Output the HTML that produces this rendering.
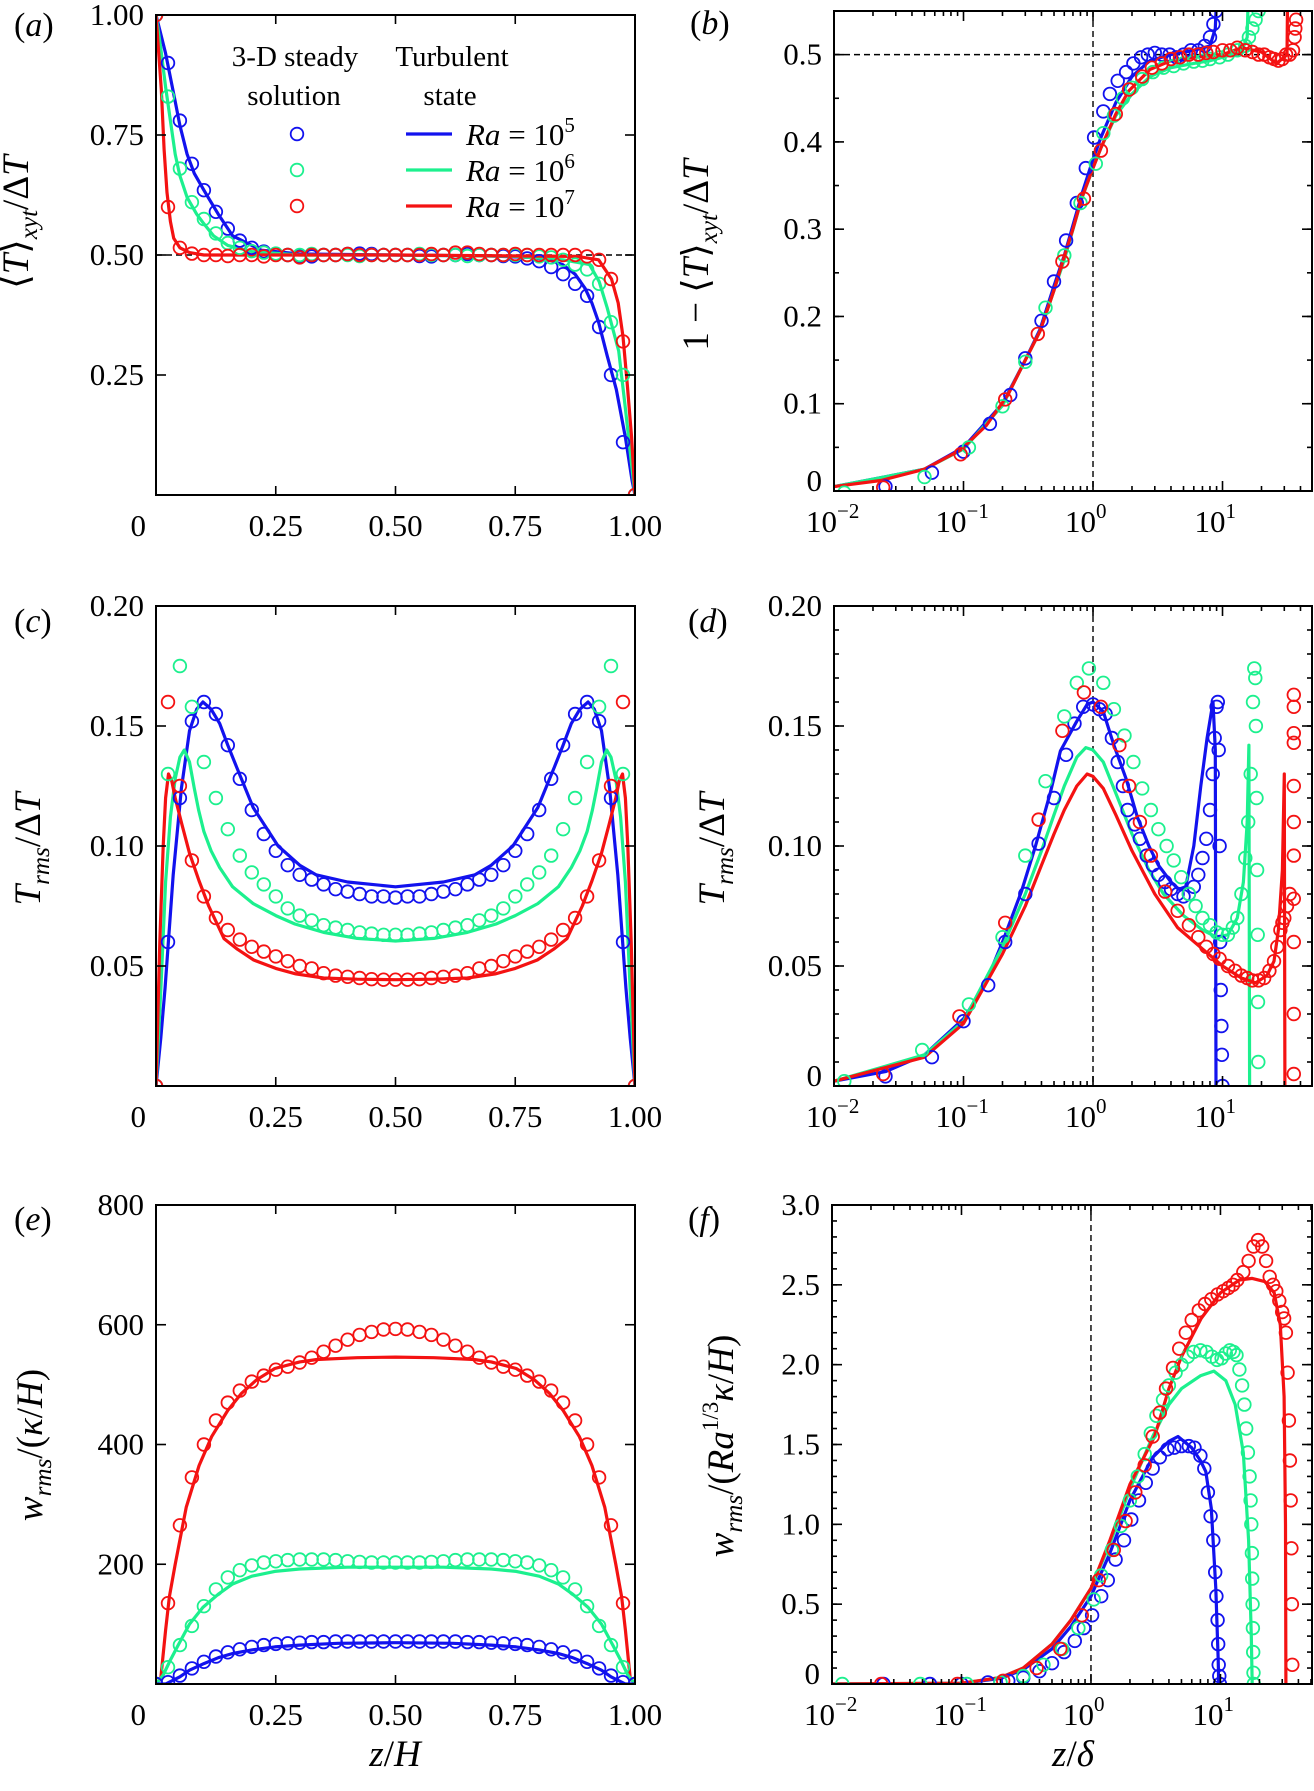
<!DOCTYPE html>
<html><head><meta charset="utf-8"><title>Temperature and velocity profiles</title>
<style>
html,body{margin:0;padding:0;background:#fff;}
svg{display:block;font-family:"Liberation Serif","DejaVu Serif",serif;}
</style></head>
<body>
<svg id="fig" xmlns="http://www.w3.org/2000/svg" width="1314" height="1791" viewBox="0 0 1314 1791">
<rect x="0" y="0" width="1314" height="1791" fill="#fff"/>
<defs id="defs"></defs>
</svg>
<script>
// ---------- shared tick data ----------
const linXTicks = [0, 0.25, 0.5, 0.75, 1];
const linXLabels = ['0', '0.25', '0.50', '0.75', '1.00'];
const logXTicks = [0.01, 0.1, 1, 10];
const logXExp = ['\u22122', '\u22121', '0', '1'];
const aYTicks = [0.25, 0.5, 0.75, 1.0];
const aYLabels = ['0.25', '0.50', '0.75', '1.00'];
const bYTicks = [0, 0.1, 0.2, 0.3, 0.4, 0.5];
const bYLabels = ['0', '0.1', '0.2', '0.3', '0.4', '0.5'];
const cYTicks = [0.05, 0.1, 0.15, 0.2];
const cYLabels = ['0.05', '0.10', '0.15', '0.20'];
const dYTicks = [0, 0.05, 0.1, 0.15, 0.2];
const dYLabels = ['0', '0.05', '0.10', '0.15', '0.20'];
const eYTicks = [200, 400, 600, 800];
const eYLabels = ['200', '400', '600', '800'];
const fYTicks = [0, 0.5, 1, 1.5, 2, 2.5, 3];
const fYLabels = ['0', '0.5', '1.0', '1.5', '2.0', '2.5', '3.0'];

// ---------- panel (a) ----------
const zGrid = [0,0.025,0.05,0.075,0.1,0.125,0.15,0.175,0.2,0.225,0.25,0.275,0.3,0.325,0.35,0.375,0.4,0.425,0.45,0.475,0.5,0.525,0.55,0.575,0.6,0.625,0.65,0.675,0.7,0.725,0.75,0.775,0.8,0.825,0.85,0.875,0.9,0.925,0.95,0.975,1];
const aBlueC = [1.00,0.90,0.78,0.69,0.635,0.59,0.555,0.53,0.515,0.507,0.502,0.5,0.498,0.497,0.5,0.5,0.502,0.503,0.502,0.5,0.5,0.5,0.498,0.497,0.5,0.5,0.502,0.5,0.5,0.498,0.497,0.493,0.487,0.475,0.46,0.44,0.415,0.35,0.25,0.11,0.0];
const aGreenC = [1.0,0.83,0.68,0.61,0.575,0.545,0.525,0.515,0.508,0.505,0.503,0.5,0.5,0.502,0.5,0.5,0.5,0.498,0.5,0.5,0.5,0.5,0.502,0.5,0.5,0.5,0.498,0.5,0.5,0.5,0.5,0.5,0.497,0.495,0.49,0.48,0.47,0.44,0.36,0.25,0.0];
const aRedC = [1.0,0.6,0.515,0.503,0.5,0.5,0.498,0.5,0.5,0.497,0.5,0.5,0.495,0.5,0.5,0.5,0.502,0.5,0.5,0.5,0.5,0.5,0.5,0.502,0.5,0.505,0.505,0.502,0.5,0.5,0.502,0.5,0.5,0.5,0.5,0.5,0.497,0.49,0.45,0.32,0.0];
const aBlueLz = [0,0.01,0.02,0.03,0.04,0.05,0.065,0.08,0.1,0.112,0.13,0.16,0.19,0.22,0.3,0.5,0.7,0.78,0.82,0.849,0.875,0.896,0.91,0.924,0.942,0.961,0.98,0.994,1];
const aBlueLv = [1.0,0.96,0.92,0.87,0.82,0.77,0.71,0.67,0.635,0.615,0.585,0.54,0.525,0.51,0.502,0.5,0.498,0.495,0.49,0.48,0.46,0.43,0.40,0.36,0.29,0.22,0.12,0.03,0.0];
const aGreenLz = [0,0.01,0.02,0.03,0.04,0.05,0.065,0.085,0.1,0.12,0.15,0.2,0.3,0.5,0.75,0.85,0.905,0.925,0.942,0.966,0.98,0.991,1];
const aGreenLv = [1.0,0.93,0.85,0.78,0.71,0.665,0.62,0.585,0.565,0.54,0.52,0.507,0.5,0.5,0.497,0.49,0.48,0.445,0.39,0.30,0.18,0.08,0.0];
const aRedLz = [0,0.005,0.011,0.017,0.023,0.03,0.037,0.05,0.07,0.1,0.5,0.88,0.924,0.951,0.965,0.975,0.984,0.993,1];
const aRedLv = [1.0,0.93,0.845,0.72,0.63,0.57,0.535,0.515,0.505,0.5,0.5,0.497,0.49,0.45,0.40,0.33,0.23,0.12,0.0];

// ---------- panel (b) ----------
const bBlueLx = [0.01,0.05,0.1,0.2,0.3,0.39,0.5,0.6,0.82,1,1.15,1.5,2,2.75,4,6,8,8.8,9.2];
const bBlueLy = [0.005,0.025,0.05,0.1,0.15,0.185,0.235,0.27,0.34,0.38,0.405,0.445,0.475,0.493,0.5,0.505,0.51,0.53,0.6];
const bGreenLx = [0.01,0.05,0.1,0.2,0.3,0.39,0.5,0.6,0.82,1,1.15,1.5,2,2.75,4,6,8,10,14,15.5,16];
const bGreenLy = [0.005,0.025,0.048,0.098,0.15,0.183,0.23,0.265,0.335,0.37,0.393,0.43,0.455,0.475,0.485,0.49,0.493,0.497,0.503,0.52,0.6];
const bRedLx = [0.01,0.023,0.05,0.095,0.15,0.22,0.3,0.39,0.5,0.586,0.7,0.82,1,1.15,1.5,1.88,2.75,4,6,10,14,20,26,30,31.5,32];
const bRedLy = [0.005,0.012,0.025,0.047,0.075,0.11,0.15,0.183,0.23,0.264,0.3,0.336,0.37,0.393,0.432,0.458,0.483,0.493,0.497,0.5,0.508,0.503,0.49,0.497,0.5,0.6];
const bBlueCx = [0.025,0.057,0.1,0.16,0.23,0.3,0.4,0.5,0.62,0.75,0.88,1.02,1.2,1.35,1.55,1.8,2.05,2.35,2.65,3.0,3.4,3.9,4.4,5,5.7,6.5,7.3,8.0,8.5,8.9];
const bBlueCy = [0.005,0.021,0.045,0.077,0.11,0.152,0.195,0.24,0.287,0.33,0.37,0.405,0.435,0.455,0.47,0.48,0.49,0.497,0.5,0.502,0.5,0.5,0.497,0.5,0.505,0.505,0.51,0.52,0.535,0.55];
const bGreenCx = [0.012,0.05,0.11,0.2,0.3,0.43,0.6,0.8,1.05,1.2,1.45,1.7,2,2.4,2.9,3.5,4.2,5,6,7,8,9.5,11,13,15,16,17,18,19];
const bGreenCy = [-0.002,0.016,0.05,0.097,0.148,0.21,0.27,0.33,0.375,0.41,0.43,0.45,0.462,0.472,0.48,0.485,0.487,0.49,0.492,0.493,0.495,0.497,0.5,0.505,0.51,0.52,0.53,0.54,0.55];
const bRedCx = [0.024,0.095,0.21,0.375,0.58,0.85,1.15,1.5,1.9,2.4,2.85,3.4,4,4.7,5.5,6.5,7.5,8.5,10,11.5,13,15,17,19,21,23,25,27,29,31,33,35,36,36.5,37];
const bRedCy = [0.004,0.042,0.105,0.18,0.263,0.335,0.39,0.432,0.46,0.475,0.485,0.49,0.495,0.497,0.5,0.5,0.502,0.503,0.505,0.505,0.508,0.505,0.503,0.5,0.5,0.497,0.495,0.493,0.495,0.5,0.5,0.505,0.52,0.53,0.54];

// ---------- panel (c) ----------
const cBlueC = [0,0.06,0.12,0.152,0.16,0.155,0.142,0.128,0.115,0.105,0.098,0.092,0.088,0.086,0.084,0.082,0.081,0.08,0.079,0.079,0.0785,0.079,0.079,0.08,0.081,0.082,0.084,0.086,0.088,0.092,0.098,0.105,0.115,0.128,0.142,0.155,0.16,0.152,0.12,0.06,0];
const cGreenC = [0,0.13,0.175,0.158,0.135,0.12,0.107,0.096,0.089,0.084,0.079,0.074,0.071,0.069,0.067,0.066,0.065,0.064,0.0635,0.063,0.063,0.063,0.0635,0.064,0.065,0.066,0.067,0.069,0.071,0.074,0.079,0.084,0.089,0.096,0.107,0.12,0.135,0.158,0.175,0.13,0];
const cRedC = [0,0.16,0.125,0.094,0.079,0.07,0.065,0.061,0.058,0.056,0.054,0.052,0.05,0.049,0.047,0.046,0.0455,0.045,0.0445,0.0443,0.0443,0.0443,0.0445,0.045,0.0455,0.046,0.047,0.049,0.05,0.052,0.054,0.056,0.058,0.061,0.065,0.07,0.079,0.094,0.125,0.16,0];
const cBlueLz = [0,0.01,0.019,0.036,0.053,0.07,0.085,0.098,0.115,0.133,0.15,0.168,0.203,0.255,0.3,0.334,0.4,0.5,0.6,0.666,0.7,0.745,0.797,0.832,0.85,0.867,0.885,0.902,0.915,0.93,0.947,0.964,0.981,0.99,1];
const cBlueLv = [0,0.02,0.041,0.088,0.124,0.148,0.157,0.16,0.157,0.151,0.142,0.133,0.116,0.100,0.092,0.088,0.085,0.083,0.085,0.088,0.092,0.100,0.116,0.133,0.142,0.151,0.157,0.16,0.157,0.148,0.124,0.088,0.041,0.02,0];
const cGreenLz = [0,0.01,0.02,0.03,0.04,0.05,0.059,0.07,0.08,0.089,0.1,0.115,0.133,0.16,0.203,0.25,0.29,0.35,0.42,0.5,0.58,0.65,0.71,0.75,0.797,0.84,0.867,0.885,0.9,0.911,0.92,0.93,0.941,0.95,0.96,0.97,0.98,0.99,1];
const cGreenLv = [0,0.04,0.085,0.112,0.128,0.137,0.14,0.135,0.124,0.115,0.106,0.098,0.091,0.083,0.076,0.071,0.0675,0.064,0.0615,0.0604,0.0615,0.064,0.0675,0.071,0.076,0.083,0.091,0.098,0.106,0.115,0.124,0.135,0.14,0.137,0.128,0.112,0.085,0.04,0];
const cRedLz = [0,0.008,0.015,0.02,0.026,0.033,0.04,0.054,0.07,0.09,0.11,0.142,0.17,0.204,0.25,0.292,0.35,0.42,0.5,0.58,0.65,0.708,0.75,0.796,0.83,0.858,0.89,0.91,0.93,0.946,0.96,0.967,0.974,0.98,0.985,0.992,1];
const cRedLv = [0,0.06,0.1,0.12,0.13,0.127,0.12,0.109,0.097,0.0854,0.075,0.0614,0.057,0.0525,0.049,0.0467,0.045,0.0445,0.0443,0.0445,0.045,0.0467,0.049,0.0525,0.057,0.0614,0.075,0.0854,0.097,0.109,0.12,0.127,0.13,0.12,0.1,0.06,0];

// ---------- panel (d) ----------
const dBlueLx = [0.01,0.025,0.05,0.1,0.146,0.2,0.28,0.36,0.47,0.56,0.75,0.9,1.0,1.2,1.45,1.8,2.2,2.7,3.2,4,4.6,5.2,6,6.8,7.6,8.45,8.8,8.9];
const dBlueLy = [0.002,0.006,0.013,0.028,0.042,0.06,0.081,0.1,0.1225,0.1396,0.152,0.159,0.16,0.156,0.142,0.128,0.112,0.1,0.092,0.085,0.082,0.083,0.1,0.125,0.145,0.16,0.14,0.0];
const dGreenLx = [0.01,0.05,0.1,0.2,0.3,0.4,0.5,0.6,0.75,0.88,1.0,1.2,1.5,2,2.7,3.5,5,7,9,11,13,14.5,15.5,16,16.2];
const dGreenLy = [0.002,0.013,0.027,0.058,0.08,0.098,0.113,0.125,0.137,0.141,0.14,0.135,0.122,0.105,0.09,0.08,0.071,0.065,0.062,0.063,0.07,0.085,0.11,0.142,0.0];
const dRedLx = [0.01,0.05,0.1,0.2,0.3,0.4,0.5,0.6,0.75,0.9,1.0,1.2,1.5,2,3,4.5,6.7,10,14,18,22,25,27,29,30,30.3];
const dRedLy = [0.002,0.012,0.026,0.055,0.075,0.092,0.105,0.115,0.125,0.13,0.129,0.124,0.113,0.098,0.08,0.066,0.058,0.05,0.045,0.043,0.046,0.052,0.065,0.09,0.13,0.0];
const dBlueCx = [0.025,0.057,0.1,0.155,0.21,0.3,0.38,0.5,0.62,0.72,0.84,1.0,1.12,1.25,1.4,1.55,1.7,1.85,2.1,2.3,2.6,2.9,3.2,3.6,4,4.5,5,5.5,6,6.5,7,7.5,8,8.4,8.7,9,9.2,9.35,9.5,9.6,9.7,9.8,9.9,10];
const dBlueCy = [0.004,0.012,0.027,0.042,0.06,0.08,0.101,0.12,0.138,0.151,0.158,0.159,0.157,0.155,0.145,0.135,0.125,0.115,0.109,0.103,0.096,0.092,0.088,0.085,0.082,0.08,0.079,0.08,0.083,0.088,0.095,0.103,0.115,0.13,0.145,0.158,0.16,0.14,0.1,0.06,0.04,0.025,0.013,0.0];
const dGreenCx = [0.012,0.048,0.11,0.2,0.3,0.43,0.6,0.75,0.93,1.2,1.45,1.75,2.05,2.4,2.8,3.2,3.7,4.2,4.8,5.5,6.2,7,8,9,10,11,12,13,14,15,15.8,16.5,17.2,17.6,17.9,18.1,18.3,18.5,18.7,18.8,18.9];
const dGreenCy = [0.002,0.015,0.034,0.062,0.096,0.127,0.154,0.168,0.174,0.168,0.157,0.146,0.135,0.124,0.115,0.107,0.1,0.094,0.087,0.08,0.075,0.07,0.067,0.064,0.063,0.063,0.066,0.07,0.08,0.095,0.11,0.13,0.16,0.174,0.17,0.15,0.12,0.09,0.063,0.035,0.01];
const dRedCx = [0.024,0.093,0.21,0.38,0.58,0.85,1.15,1.6,1.9,2.3,2.8,3.6,4.5,5.5,6.5,7.5,8.5,9.5,11,12.5,14,15.5,17,19,21,23,25,26.5,28,29,30,31.5,33,35.5,35.5,35.5,35.5,35.5,35.5,35.5,35.5,35.5,35.5,35.5];
const dRedCy = [0.005,0.029,0.068,0.111,0.148,0.164,0.158,0.142,0.125,0.11,0.096,0.081,0.073,0.067,0.062,0.058,0.055,0.053,0.05,0.048,0.046,0.045,0.044,0.044,0.045,0.048,0.052,0.058,0.065,0.068,0.07,0.075,0.08,0.163,0.158,0.147,0.143,0.125,0.11,0.096,0.078,0.06,0.03,0.005];

// ---------- panel (e) ----------
const eRedC = [0,135,265,345,400,440,470,490,505,515,525,530,537,545,555,565,575,583,588,592,593,592,588,583,575,565,555,545,537,530,525,515,505,490,470,440,400,345,265,135,0];
const eGreenC = [0,28,65,97,130,158,178,190,198,203,205,207,208,208,208,207,205,204,203,203,203,203,203,204,205,207,208,208,208,207,205,203,198,190,178,158,130,97,65,28,0];
const eBlueC = [0,3,14,26,37,46,53,58,62,65,67,68,69,70,70,71,71,71,71,71,71,71,71,71,71,71,70,70,69,68,67,65,62,58,53,46,37,26,14,3,0];
const eRedLz = [0,0.01,0.02,0.028,0.04,0.063,0.09,0.116,0.15,0.178,0.21,0.248,0.3,0.336,0.42,0.5,0.58,0.664,0.7,0.752,0.79,0.822,0.85,0.884,0.91,0.937,0.96,0.972,0.98,0.99,1];
const eRedLv = [0,10,90,146,200,295,365,413,457,485,508,527,538,542,545,546,545,542,538,527,508,485,457,413,365,295,200,146,90,10,0];
const eGreenLz = [0,0.015,0.03,0.045,0.07,0.098,0.13,0.16,0.2,0.248,0.3,0.4,0.5,0.6,0.7,0.752,0.8,0.84,0.87,0.902,0.93,0.955,0.97,0.985,1];
const eGreenLv = [0,15,40,63,100,128,150,167,180,188,192,195,195,195,192,188,180,167,150,128,100,63,40,15,0];
const eBlueLz = [0,0.02,0.05,0.07,0.1,0.13,0.16,0.2,0.248,0.3,0.38,0.5,0.62,0.7,0.752,0.8,0.84,0.87,0.9,0.93,0.95,0.98,1];
const eBlueLv = [0,0,12,23,34,44,51,57,62,65,68,69,68,65,62,57,51,44,34,23,12,0,0];

// ---------- panel (f) ----------
const fBlueLx = [0.01,0.1,0.2,0.3,0.5,0.7,1.0,1.4,2,3,4,4.7,6,7,7.7,8.5,9.2,9.6,9.7];
const fBlueLy = [0,0.004,0.035,0.09,0.22,0.36,0.55,0.82,1.15,1.42,1.52,1.55,1.48,1.4,1.33,1.1,0.6,0.15,0];
const fGreenLx = [0.01,0.1,0.2,0.3,0.5,0.7,1.0,1.4,2,3,4,5,7,8.9,11,13,15,16.5,17.3,17.6];
const fGreenLy = [0,0.005,0.04,0.1,0.25,0.4,0.6,0.88,1.22,1.55,1.75,1.85,1.93,1.96,1.9,1.75,1.45,0.9,0.3,0];
const fRedLx = [0.01,0.1,0.2,0.3,0.5,0.7,1.0,1.4,2,3.1,4,5,7.1,10,14,17.6,22,26,29,31,31.8,32];
const fRedLy = [0,0.005,0.04,0.1,0.25,0.4,0.6,0.9,1.25,1.55,1.85,2.05,2.29,2.45,2.53,2.54,2.52,2.45,2.25,1.8,1.0,0];
const fBlueCx = [0.025,0.057,0.1,0.16,0.23,0.3,0.4,0.5,0.62,0.75,0.88,1.02,1.2,1.35,1.55,1.8,2.05,2.35,2.65,3,3.4,3.9,4.4,5,5.7,6.3,7,7.5,8,8.4,8.8,9.1,9.3,9.5,9.6,9.7,9.8,9.9];
const fBlueCy = [0,0,0,0.01,0.02,0.04,0.08,0.13,0.2,0.27,0.35,0.43,0.55,0.65,0.78,0.9,1.03,1.15,1.26,1.35,1.42,1.47,1.48,1.49,1.49,1.48,1.43,1.35,1.2,1.05,0.9,0.7,0.55,0.4,0.25,0.12,0.05,0];
const fGreenCx = [0.012,0.048,0.11,0.2,0.3,0.43,0.6,0.8,1.05,1.2,1.45,1.7,2,2.3,2.6,2.9,3.2,3.6,4,4.5,5,5.6,6.2,7,7.8,8.6,9.4,10.2,11,11.8,12.6,13.3,14,14.7,15.3,15.8,16.3,16.8,17.1,17.3,17.5,17.6,17.7,17.8,17.9,18,18.1];
const fGreenCy = [0,0,0,0.01,0.05,0.12,0.22,0.35,0.53,0.68,0.84,0.99,1.15,1.3,1.44,1.57,1.68,1.78,1.87,1.95,2,2.05,2.08,2.09,2.08,2.05,2.03,2.04,2.07,2.09,2.08,2.06,1.97,1.87,1.75,1.6,1.45,1.3,1.15,1,0.82,0.66,0.5,0.35,0.2,0.07,0];
const fRedCx = [0.024,0.093,0.21,0.38,0.58,0.85,1.15,1.5,1.85,2.2,2.6,3,3.4,3.8,4.3,4.8,5.4,6,6.8,7.6,8.5,9.5,10.5,11.5,12.5,13.5,15,16.5,18,19.5,21,22.5,24,25.5,27,28.5,30,31,32,33,33.8,34.4,34.9,35.3,35.6,35.9];
const fRedCy = [0,0,0.02,0.1,0.22,0.43,0.65,0.84,1.02,1.2,1.37,1.55,1.7,1.85,1.98,2.1,2.2,2.28,2.34,2.38,2.41,2.44,2.46,2.48,2.5,2.53,2.58,2.65,2.74,2.78,2.74,2.65,2.55,2.5,2.46,2.4,2.33,2.29,2.2,1.95,1.65,1.4,1.15,0.85,0.5,0.12];

// ---------- rendering ----------
const NS = 'http://www.w3.org/2000/svg';
const svg = document.getElementById('fig');
const defs = document.getElementById('defs');
const BLUE = '#1212ee', GREEN = '#1cf08e', RED = '#f41212';

function mk(tag, parent) { const e = document.createElementNS(NS, tag); parent.appendChild(e); return e; }
function set(e, o) { for (const k in o) e.setAttribute(k, o[k]); return e; }

const P = {
  a: {x0:156, x1:635, y0:15, y1:495, log:false, xmin:0, xmax:1, ymin:0, ymax:1},
  b: {x0:834, x1:1312, y0:11, y1:491, log:true, xmin:-2, xmax:1.691, ymin:0, ymax:0.55},
  c: {x0:156, x1:635, y0:606, y1:1086, log:false, xmin:0, xmax:1, ymin:0, ymax:0.2},
  d: {x0:834, x1:1312, y0:606, y1:1086, log:true, xmin:-2, xmax:1.691, ymin:0, ymax:0.2},
  e: {x0:156, x1:635, y0:1205, y1:1684, log:false, xmin:0, xmax:1, ymin:0, ymax:800},
  f: {x0:832, x1:1312, y0:1205, y1:1684, log:true, xmin:-2, xmax:1.707, ymin:0, ymax:3.0}
};
function sx(p, v) { const t = p.log ? Math.log10(v) : v; return p.x0 + (t - p.xmin) / (p.xmax - p.xmin) * (p.x1 - p.x0); }
function sy(p, v) { return p.y1 - (v - p.ymin) / (p.ymax - p.ymin) * (p.y1 - p.y0); }

function panelGroup(key) {
  const p = P[key];
  const g = mk('g', svg);
  
  
  const cp = mk('clipPath', defs);
  cp.setAttribute('id', 'clip-' + key);
  set(mk('rect', cp), {x: p.x0, y: p.y0, width: p.x1 - p.x0, height: p.y1 - p.y0});
  const plot = mk('g', g);
  plot.setAttribute('clip-path', 'url(#clip-' + key + ')');
  
  
  return {g, plot, p};
}

function drawLine(P0, xs, ys, color, name) {
  const pts = xs.map((x, i) => sx(P0.p, x).toFixed(1) + ',' + sy(P0.p, ys[i]).toFixed(1)).join(' ');
  const l = mk('polyline', P0.plot);
  set(l, {points: pts, fill: 'none', stroke: color, 'stroke-width': 3.2, 'stroke-linejoin': 'round'});
  
  
}
function drawCircles(P0, xs, ys, color, name) {
  const g = mk('g', P0.plot);
  
  
  xs.forEach((x, i) => {
    const c = mk('circle', g);
    set(c, {cx: sx(P0.p, x).toFixed(1), cy: sy(P0.p, ys[i]).toFixed(1), r: 6.3, fill: 'none', stroke: color, 'stroke-width': 1.8});
    
    
  });
}
function dashH(P0, v) {
  const p = P0.p, l = mk('line', P0.plot);
  set(l, {x1: p.x0, x2: p.x1, y1: sy(p, v), y2: sy(p, v), stroke: '#000', 'stroke-width': 1.4, 'stroke-dasharray': '6,4'});
  
  
}
function dashV(P0, v) {
  const p = P0.p, l = mk('line', P0.plot);
  set(l, {x1: sx(p, v), x2: sx(p, v), y1: p.y0, y2: p.y1, stroke: '#000', 'stroke-width': 1.4, 'stroke-dasharray': '6,4'});
  
  
}
function tickLine(g, x1, y1, x2, y2) {
  const t = mk('line', g);
  set(t, {x1, y1, x2, y2, stroke: '#000', 'stroke-width': 1.6});
}
function txt(parent, x, y, s, anchor, size) {
  const t = mk('text', parent);
  set(t, {x, y, 'text-anchor': anchor || 'middle', 'font-size': size || 31, fill: '#000'});
  t.textContent = s;
  return t;
}

function axes(P0, yTicks, yLabels, yMinorStep, key) {
  const p = P0.p, g = P0.g;
  const fr = mk('rect', g);
  set(fr, {x: p.x0, y: p.y0, width: p.x1 - p.x0, height: p.y1 - p.y0, fill: 'none', stroke: '#000', 'stroke-width': 2});
  
  
  const xa = mk('g', g);
  
  
  if (!p.log) {
    linXTicks.forEach((v, i) => {
      const x = sx(p, v);
      if (v > 0 && v < 1) { tickLine(xa, x, p.y1, x, p.y1 - 9); tickLine(xa, x, p.y0, x, p.y0 + 9); }
      const t = v === 0 ? txt(xa, p.x0 - 10, p.y1 + 41, linXLabels[i], 'end') : txt(xa, x, p.y1 + 41, linXLabels[i]);
      
      
    });
  } else {
    for (let d = -2; d <= 1; d++) {
      for (let m = 1; m <= 9; m++) {
        const v = m * Math.pow(10, d);
        const lv = Math.log10(v);
        if (lv <= p.xmin + 1e-9 || lv >= p.xmax) continue;
        const x = sx(p, v), len = m === 1 ? 10 : 5;
        tickLine(xa, x, p.y1, x, p.y1 - len); tickLine(xa, x, p.y0, x, p.y0 + len);
      }
    }
    logXTicks.forEach((v, i) => {
      const x = sx(p, v);
      const t = txt(xa, x - 28, p.y1 + 41, '10', 'start');
      const s = mk('tspan', t);
      set(s, {dy: -14, 'font-size': 21});
      s.textContent = logXExp[i];
      
      
    });
  }
  const ya = mk('g', g);
  
  
  if (yMinorStep) {
    for (let v = p.ymin + yMinorStep; v < p.ymax - 1e-9; v += yMinorStep) {
      const y = sy(p, v);
      tickLine(ya, p.x0, y, p.x0 + 5, y); tickLine(ya, p.x1, y, p.x1 - 5, y);
    }
  }
  yTicks.forEach((v, i) => {
    const y = sy(p, v);
    if (v > p.ymin && v < p.ymax - 1e-9) { tickLine(ya, p.x0, y, p.x0 + 10, y); tickLine(ya, p.x1, y, p.x1 - 10, y); }
    const off = (p.log && v === 0) ? -10 : 0;
    const t = txt(ya, p.x0 - 12, y + 10 + off, yLabels[i], 'end');
    
    
  });
}

function panelLetter(x, y, letter) {
  const t = txt(svg, x, y, '(', 'start', 34);
  const s = mk('tspan', t); s.setAttribute('font-style', 'italic'); s.textContent = letter;
  const s2 = mk('tspan', t); s2.textContent = ')';
  
  
}
// parts: [text, style] style: 'i' italic, 'n' normal, 'sub' italic subscript, 'sup' superscript
function richText(x, y, parts, size, rotate, name) {
  const t = mk('text', svg);
  set(t, {x, y, 'text-anchor': 'middle', 'font-size': size, fill: '#000'});
  if (rotate) t.setAttribute('transform', 'rotate(-90 ' + x + ' ' + y + ')');
  let shift = 0;
  parts.forEach(pt => {
    const s = mk('tspan', t);
    let target = 0;
    if (pt[1] === 'sub') { s.setAttribute('font-size', size * 0.68); s.setAttribute('font-style', 'italic'); target = 9; }
    else if (pt[1] === 'sup') { s.setAttribute('font-size', size * 0.62); target = -15; }
    else if (pt[1] === 'i') s.setAttribute('font-style', 'italic');
    s.setAttribute('dy', target - shift);
    shift = target;
    s.textContent = pt[0];
  });
  
  
  return t;
}

// ----- panel a -----
const A = panelGroup('a');
dashH(A, 0.5);
drawLine(A, aBlueLz, aBlueLv, BLUE, 'line-ra1e5');
drawLine(A, aGreenLz, aGreenLv, GREEN, 'line-ra1e6');
drawLine(A, aRedLz, aRedLv, RED, 'line-ra1e7');
drawCircles(A, zGrid, aBlueC, BLUE, 'steady-ra1e5');
drawCircles(A, zGrid, aGreenC, GREEN, 'steady-ra1e6');
drawCircles(A, zGrid, aRedC, RED, 'steady-ra1e7');
axes(A, aYTicks, aYLabels, 0, 'a');

// ----- panel b -----
const B = panelGroup('b');
dashH(B, 0.5); dashV(B, 1);
drawLine(B, bBlueLx, bBlueLy, BLUE, 'line-ra1e5');
drawLine(B, bGreenLx, bGreenLy, GREEN, 'line-ra1e6');
drawLine(B, bRedLx, bRedLy, RED, 'line-ra1e7');
drawCircles(B, bBlueCx, bBlueCy, BLUE, 'steady-ra1e5');
drawCircles(B, bGreenCx, bGreenCy, GREEN, 'steady-ra1e6');
drawCircles(B, bRedCx, bRedCy, RED, 'steady-ra1e7');
axes(B, bYTicks, bYLabels, 0.05, 'b');

// ----- panel c -----
const C = panelGroup('c');
drawLine(C, cBlueLz, cBlueLv, BLUE, 'line-ra1e5');
drawLine(C, cGreenLz, cGreenLv, GREEN, 'line-ra1e6');
drawLine(C, cRedLz, cRedLv, RED, 'line-ra1e7');
drawCircles(C, zGrid, cBlueC, BLUE, 'steady-ra1e5');
drawCircles(C, zGrid, cGreenC, GREEN, 'steady-ra1e6');
drawCircles(C, zGrid, cRedC, RED, 'steady-ra1e7');
axes(C, cYTicks, cYLabels, 0, 'c');

// ----- panel d -----
const D = panelGroup('d');
dashV(D, 1);
drawLine(D, dBlueLx, dBlueLy, BLUE, 'line-ra1e5');
drawLine(D, dGreenLx, dGreenLy, GREEN, 'line-ra1e6');
drawLine(D, dRedLx, dRedLy, RED, 'line-ra1e7');
drawCircles(D, dBlueCx, dBlueCy, BLUE, 'steady-ra1e5');
drawCircles(D, dGreenCx, dGreenCy, GREEN, 'steady-ra1e6');
drawCircles(D, dRedCx, dRedCy, RED, 'steady-ra1e7');
axes(D, dYTicks, dYLabels, 0.01, 'd');

// ----- panel e -----
const E = panelGroup('e');
drawLine(E, eRedLz, eRedLv, RED, 'line-ra1e7');
drawLine(E, eGreenLz, eGreenLv, GREEN, 'line-ra1e6');
drawLine(E, eBlueLz, eBlueLv, BLUE, 'line-ra1e5');
drawCircles(E, zGrid, eRedC, RED, 'steady-ra1e7');
drawCircles(E, zGrid, eGreenC, GREEN, 'steady-ra1e6');
drawCircles(E, zGrid, eBlueC, BLUE, 'steady-ra1e5');
axes(E, eYTicks, eYLabels, 0, 'e');

// ----- panel f -----
const F = panelGroup('f');
dashV(F, 1);
drawLine(F, fBlueLx, fBlueLy, BLUE, 'line-ra1e5');
drawLine(F, fGreenLx, fGreenLy, GREEN, 'line-ra1e6');
drawLine(F, fRedLx, fRedLy, RED, 'line-ra1e7');
drawCircles(F, fBlueCx, fBlueCy, BLUE, 'steady-ra1e5');
drawCircles(F, fGreenCx, fGreenCy, GREEN, 'steady-ra1e6');
drawCircles(F, fRedCx, fRedCy, RED, 'steady-ra1e7');
axes(F, fYTicks, fYLabels, 0.1, 'f');

// ----- panel letters -----
panelLetter(14, 36, 'a');
panelLetter(690, 34, 'b');
panelLetter(14, 632, 'c');
panelLetter(688, 632, 'd');
panelLetter(14, 1230, 'e');
panelLetter(688, 1230, 'f');

// ----- axis titles -----
richText(28, 222, [['\u27E8', 'n'], ['T', 'i'], ['\u27E9', 'n'], ['xyt', 'sub'], ['/\u0394', 'n'], ['T', 'i']], 37, true, 'y-axis-title-a');
richText(708, 255, [['1 \u2212 \u27E8', 'n'], ['T', 'i'], ['\u27E9', 'n'], ['xyt', 'sub'], ['/\u0394', 'n'], ['T', 'i']], 37, true, 'y-axis-title-b');
richText(40, 849, [['T', 'i'], ['rms', 'sub'], ['/\u0394', 'n'], ['T', 'i']], 37, true, 'y-axis-title-c');
richText(724, 849, [['T', 'i'], ['rms', 'sub'], ['/\u0394', 'n'], ['T', 'i']], 37, true, 'y-axis-title-d');
richText(42, 1445, [['w', 'i'], ['rms', 'sub'], ['/(', 'n'], ['\u03BA', 'i'], ['/', 'n'], ['H', 'i'], [')', 'n']], 37, true, 'y-axis-title-e');
richText(733, 1446, [['w', 'i'], ['rms', 'sub'], ['/(', 'n'], ['Ra', 'i'], ['1/3', 'sup'], ['\u03BA', 'i'], ['/', 'n'], ['H', 'i'], [')', 'n']], 37, true, 'y-axis-title-f');
richText(395, 1766, [['z', 'i'], ['/', 'n'], ['H', 'i']], 37, false, 'x-axis-title-left');
richText(1073, 1766, [['z', 'i'], ['/', 'n'], ['\u03B4', 'i']], 37, false, 'x-axis-title-right');

// ----- legend -----
const leg = mk('g', svg);


const legHead = [['3-D steady', 295, 66], ['solution', 294, 105], ['Turbulent', 452, 66], ['state', 450, 105]];
legHead.forEach(h => {
  const t = txt(leg, h[1], h[2], h[0], 'middle', 29);
  
  
});
const legColors = [BLUE, GREEN, RED];
const legExp = ['5', '6', '7'];
const legY = [134, 170, 206];
legColors.forEach((col, i) => {
  const e = mk('g', leg);
  
  
  set(mk('circle', e), {cx: 297, cy: legY[i], r: 6.3, fill: 'none', stroke: col, 'stroke-width': 1.8});
  set(mk('line', e), {x1: 406, x2: 452, y1: legY[i], y2: legY[i], stroke: col, 'stroke-width': 3.2});
  const t = txt(e, 466, legY[i] + 11, '', 'start', 31);
  const s1 = mk('tspan', t); s1.setAttribute('font-style', 'italic'); s1.textContent = 'Ra';
  const s2 = mk('tspan', t); s2.textContent = ' = 10';
  const s3 = mk('tspan', t); set(s3, {dy: -13, 'font-size': 21}); s3.textContent = legExp[i];
});
</script>
</body></html>
